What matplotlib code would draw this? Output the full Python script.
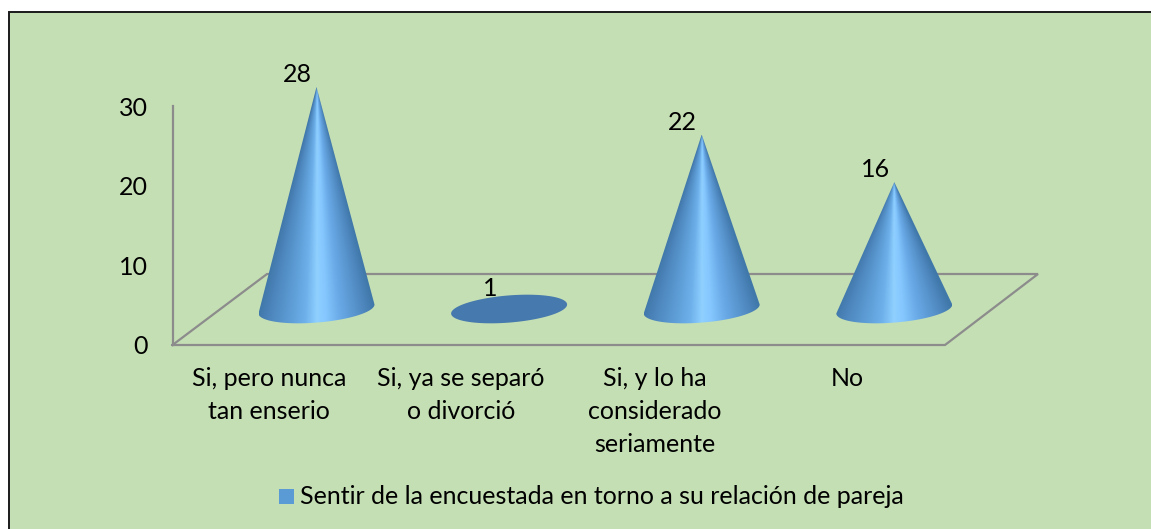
import numpy as np
import matplotlib
matplotlib.use("Agg")
import matplotlib.pyplot as plt
from matplotlib.colors import LinearSegmentedColormap
from matplotlib.patches import Polygon, Rectangle

plt.rcParams["font.family"] = ["Lato", "DejaVu Sans"]

categories = ["Si, pero nunca\ntan enserio", "Si, ya se separó\no divorció",
              "Si, y lo ha\nconsiderado\nseriamente", "No"]
values = [28, 1, 22, 16]
y_ticks = [0, 10, 20, 30]
legend_label = "Sentir de la encuestada en torno a su relación de pareja"

W, H = 1151, 529
BG = "#c5dfb4"
GRID = "#8c8c8c"
FS = 18
PX_UNIT = 7.93      # pixels per value unit
PX_CAT = 192.6      # pixels per category
X0_PX = 316.5       # pixel of first category
Y0_PX = 345.0       # pixel of value 0 on the wall
DEPTH = (345.0 - 309.0) / PX_UNIT  # cones sit on the middle of the floor

fig = plt.figure(figsize=(W / 100, H / 100), dpi=100, facecolor="white")
ax = fig.add_axes([0, 0, 1, 1])
ax.axis("off")


def px_x(p):
    return (p - X0_PX) / PX_CAT


def px_y(p):
    return (Y0_PX - p) / PX_UNIT


# chart area with its black frame, right and bottom edges run off the picture
ax.add_patch(Rectangle((px_x(9), px_y(H + 5)), (W + 5) / PX_CAT, (H + 5 - 12) / PX_UNIT,
                       facecolor=BG, edgecolor="#1a1a1a", linewidth=1.4, zorder=0))

# wall and floor lines
floor_x = [172.5, 945, 1038, 267]
floor_y = [345, 345, 274, 274]
ax.plot(px_x(np.array(floor_x + floor_x[:1])), px_y(np.array(floor_y + floor_y[:1])),
        color=GRID, lw=1.6, zorder=1, solid_joinstyle="miter")
ax.plot([px_x(172.5), px_x(172.5)], [px_y(345), px_y(106.5)], color=GRID, lw=1.6, zorder=1)

cone_cmap = LinearSegmentedColormap.from_list("cone", [
    (0.00, "#4078aa"), (0.08, "#4a82b8"), (0.26, "#5c9bd4"), (0.40, "#6db0ea"),
    (0.50, "#8fd0ff"), (0.57, "#86c8ff"), (0.70, "#68a9e6"), (0.90, "#4f88bf"),
    (1.00, "#4078aa")])

half_w = 58.0 / PX_CAT
half_h = 13.6 / PX_UNIT
tilt = 4.5 / PX_UNIT

for i, v in enumerate(values):
    if v < 3:
        # nearly flat cone, seen as a plain disc
        t = np.linspace(0, 2 * np.pi, 120)
        bx = i + half_w * np.cos(t)
        by = DEPTH + tilt * np.cos(t) + half_h * np.sin(t)
        ax.add_patch(Polygon(np.column_stack([bx, by]), closed=True,
                             facecolor="#4679ad", edgecolor="none", zorder=3))
    else:
        t = np.linspace(np.pi, 2 * np.pi, 60)
        bx = i + half_w * np.cos(t)
        by = DEPTH + tilt * np.cos(t) + half_h * np.sin(t)
        pts = np.column_stack([np.r_[i, bx], np.r_[DEPTH + v, by]])
        clip = Polygon(pts, closed=True, facecolor="none", edgecolor="none", zorder=3)
        ax.add_patch(clip)
        # shading converges on the tip, so scale the gradient by the width at each height
        top = DEPTH + v
        bottom = DEPTH - half_h - 1
        xs = np.linspace(i - half_w, i + half_w, 300)
        ys = np.linspace(top, bottom, 400)
        xx, yy = np.meshgrid(xs, ys)
        width = half_w * np.clip((top - yy) / v, 0.002, None)
        shade = np.clip(0.5 + (xx - i) / (2 * width), 0, 1)
        im = ax.imshow(shade, cmap=cone_cmap, vmin=0, vmax=1, aspect="auto", zorder=3,
                       interpolation="bilinear", extent=[xs[0], xs[-1], bottom, top])
        im.set_clip_path(clip)
    # data label
    ax.text(i - 0.1, DEPTH + v + 1.55, str(v), ha="center", va="center",
            fontsize=FS, color="black", zorder=5)

ax.set_xlim(-X0_PX / PX_CAT, (W - X0_PX) / PX_CAT)
ax.set_ylim(-(H - Y0_PX) / PX_UNIT, Y0_PX / PX_UNIT)

for t in y_ticks:
    ax.text(px_x(148), t - 0.2, str(t), ha="right", va="center", fontsize=FS, color="black")

label_px = [269, 461, 655, 847]
for p, c in zip(label_px, categories):
    ax.text(px_x(p), px_y(367), c, ha="center", va="top", fontsize=FS, color="black",
            linespacing=1.53)

# legend
ax.add_patch(Rectangle((px_x(279), px_y(504)), 15 / PX_CAT, 15 / PX_UNIT,
                       facecolor="#5b9bd5", edgecolor="none", zorder=3))
ax.text(px_x(300), px_y(497), legend_label, ha="left", va="center", fontsize=FS, color="black")

fig.savefig("out.png", dpi=100)
